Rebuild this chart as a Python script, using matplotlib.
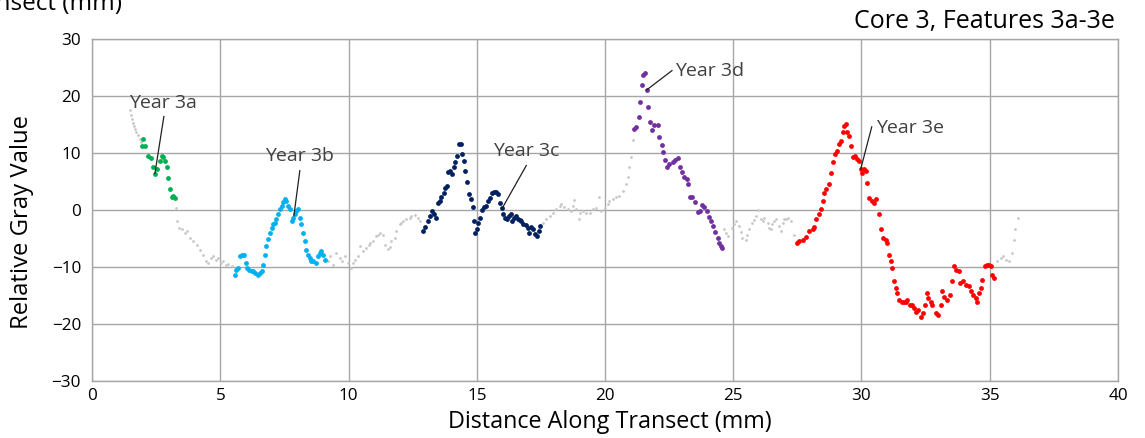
import matplotlib
matplotlib.use("Agg")
import matplotlib.pyplot as plt

# grey trace (unselected samples)
gray_x = [1.46, 1.51, 1.55, 1.6, 1.64, 1.68, 1.73, 1.79, 1.85, 1.9,
          3.27, 3.32, 3.4, 3.49, 3.62, 3.69, 3.82, 3.95, 4.08, 4.21, 4.34, 4.44,
          4.53, 4.62, 4.72, 4.83, 4.92, 5.01, 5.11, 5.22, 5.31, 5.44,
          9.14, 9.2, 9.27, 9.4, 9.53, 9.66, 9.75, 9.85, 9.98, 10.1, 10.18, 10.25,
          10.37, 10.44, 10.57, 10.7, 10.8, 10.83, 10.96, 11.09, 11.15, 11.22,
          11.35, 11.41, 11.54, 11.6, 11.67, 11.8, 11.86, 11.99, 12.05, 12.12,
          12.25, 12.38, 12.45, 12.58, 12.71, 12.8,
          17.58, 17.71, 17.84, 17.97, 18.1, 18.23, 18.29, 18.42, 18.55, 18.68,
          18.75, 18.81, 18.88, 18.98, 19.01, 19.14, 19.27, 19.4, 19.53, 19.66,
          19.76, 19.85, 19.98, 20.11, 20.17, 20.3, 20.43, 20.56, 20.69, 20.8,
          20.88, 20.95, 21.01, 21.08,
          24.65, 24.72, 24.78, 24.97, 25.03, 25.1, 25.23, 25.3, 25.36, 25.49,
          25.55, 25.62, 25.75, 25.8, 25.88, 25.97, 26.08, 26.15, 26.21, 26.34,
          26.4, 26.47, 26.53, 26.6, 26.66, 26.79, 26.86, 26.93, 26.99, 27.05,
          27.12, 27.25, 27.38, 27.48,
          35.29, 35.42, 35.5, 35.62, 35.75, 35.88, 35.94, 36.0, 36.11]
gray_y = [17.5, 16.6, 15.9, 15.3, 14.8, 14.2, 13.6, 13.1, 12.4, 11.9,
          0.41, -1.94, -3.12, -3.41, -4.0, -3.7, -4.88, -5.47, -6.06, -6.94, -7.82, -9.0,
          -9.29, -8.41, -8.11, -8.7, -8.41, -9.29, -9.0, -9.58, -9.47, -9.88,
          -8.7, -9.0, -8.1, -9.6, -7.5, -8.4, -9.0, -8.1, -9.3, -10.2, -9.3, -8.7,
          -8.1, -6.35, -7.2, -6.6, -6.2, -5.8, -5.5, -4.6, -4.3, -4.0,
          -4.3, -6.05, -6.9, -6.4, -5.5, -4.9, -3.7, -2.5, -2.2, -1.9,
          -1.65, -1.35, -1.0, -0.8, -1.35, -2.0,
          -2.2, -1.6, -1.05, -0.5, 0.1, 0.7, 1.0, 0.5, 0.1, -0.2,
          0.7, 1.7, 0.1, -1.6, -0.5, -0.2, -0.5, -0.5, 0.1, 0.4,
          2.3, -0.2, 0.4, 1.0, 1.6, 1.9, 2.2, 2.5, 3.35, 4.6,
          5.8, 7.5, 9.3, 12.2,
          -3.4, -4.0, -4.6, -3.1, -2.5, -1.9, -2.8, -3.8, -4.9, -5.2,
          -4.3, -3.4, -2.2, -1.7, -1.1, 0.0, -1.65, -2.0, -1.35, -2.2,
          -3.1, -3.4, -2.5, -2.0, -1.65, -2.8, -3.7, -2.3, -1.65, -1.5,
          -1.35, -1.9, -4.3, -5.5,
          -9.0, -8.41, -8.0, -8.7, -9.0, -7.53, -5.18, -3.41, -1.36]

# Year 3a (green)
a_x = [1.93, 2.0, 2.06, 2.19, 2.3, 2.39, 2.45, 2.52, 2.65, 2.71, 2.78, 2.84,
       2.91, 2.97, 3.04, 3.1, 3.17, 3.23]
a_y = [11.17, 12.46, 11.17, 9.52, 9.11, 7.47, 6.29, 7.17, 8.64, 9.52, 9.23, 8.64,
       7.47, 5.7, 3.64, 2.29, 2.47, 2.17]

# Year 3b (light blue)
b_x = [5.57, 5.63, 5.7, 5.76, 5.83, 5.92, 6.0, 6.05, 6.13, 6.22, 6.28, 6.37,
       6.48, 6.54, 6.61, 6.67, 6.74, 6.8, 6.87, 6.93, 7.0, 7.06, 7.13, 7.19,
       7.26, 7.32, 7.39, 7.45, 7.52, 7.58, 7.65, 7.71, 7.78, 7.84, 7.91, 7.97,
       8.03, 8.1, 8.16, 8.23, 8.29, 8.36, 8.42, 8.49, 8.55, 8.62, 8.72, 8.81,
       8.88, 8.94, 9.01, 9.07]
b_y = [-11.35, -10.47, -10.17, -8.11, -7.82, -7.94, -9.29, -10.17, -10.47, -10.64,
       -10.76, -11.05, -11.35, -11.05, -10.64, -9.58, -7.82, -6.35, -5.17, -4.0,
       -3.12, -2.53, -2.24, -1.65, -0.77, 0.12, 0.7, 1.47, 1.88, 1.59, 0.7, 0.12,
       -1.94, -1.35, -0.77, -0.18, 0.12, -1.35, -2.53, -4.0, -5.47, -6.94, -7.82,
       -8.41, -8.88, -9.0, -9.29, -8.11, -7.53, -7.23, -7.82, -8.7]

# Year 3c (navy)
c_x = [12.9, 13.0, 13.1, 13.16, 13.27, 13.33, 13.4, 13.49, 13.55, 13.62, 13.71,
       13.78, 13.84, 13.88, 13.97, 14.02, 14.1, 14.16, 14.23, 14.29, 14.37, 14.43,
       14.5, 14.56, 14.62, 14.69, 14.77, 14.85, 14.88, 14.94, 14.99, 15.06, 15.12,
       15.21, 15.29, 15.37, 15.45, 15.52, 15.6, 15.68, 15.76, 15.84, 15.91, 15.98,
       16.04, 16.11, 16.17, 16.25, 16.33, 16.38, 16.45, 16.51, 16.59, 16.67, 16.74,
       16.82, 16.9, 16.98, 17.03, 17.11, 17.19, 17.26, 17.34, 17.42, 17.47]
c_y = [-3.7, -3.0, -1.94, -1.05, -0.17, -0.76, -1.35, 1.3, 1.59, 2.3, 3.06,
       3.94, 4.24, 6.59, 6.88, 6.29, 7.47, 8.35, 9.53, 11.58, 11.58, 9.82,
       8.65, 6.88, 4.94, 2.88, 1.88, 0.53, -1.94, -4.0, -3.41, -2.23, -1.35,
       -0.06, 0.53, 0.71, 1.59, 2.18, 3.06, 3.24, 3.18, 2.88, 1.3, 0.3,
       -0.64, -1.35, -1.64, -1.05, -0.76, -1.94, -1.35, -1.05, -1.64, -1.82, -1.94,
       -2.52, -2.64, -3.11, -4.0, -3.0, -3.41, -4.29, -4.58, -3.7, -2.82]

# Year 3d (purple)
d_x = [21.14, 21.21, 21.31, 21.36, 21.43, 21.47, 21.56, 21.62, 21.69, 21.75,
       21.83, 21.92, 22.05, 22.12, 22.21, 22.27, 22.35, 22.4, 22.51, 22.64,
       22.74, 22.83, 22.92, 23.02, 23.09, 23.18, 23.24, 23.31, 23.41, 23.52,
       23.61, 23.7, 23.78, 23.87, 23.96, 24.04, 24.13, 24.22, 24.3, 24.39,
       24.45, 24.54, 24.58]
d_y = [14.28, 14.58, 16.34, 18.99, 21.93, 23.69, 23.98, 21.0, 18.11, 15.46,
       13.99, 14.87, 14.87, 12.81, 11.34, 10.17, 8.7, 7.52, 8.11, 8.41,
       8.82, 9.17, 7.52, 6.64, 5.76, 5.47, 4.58, 2.23, 2.23, 1.35,
       -0.41, -0.12, 0.94, 0.47, -0.12, -1.29, -1.88, -2.76, -3.94, -4.82,
       -5.7, -6.29, -6.7]

# Year 3e (red)
e_x = [27.5, 27.57, 27.7, 27.83, 27.96, 28.09, 28.15, 28.22, 28.35, 28.41, 28.48,
       28.54, 28.61, 28.74, 28.8, 28.87, 28.97, 29.06, 29.13, 29.19, 29.26, 29.32,
       29.39, 29.45, 29.52, 29.58, 29.65, 29.75, 29.84, 29.9, 29.97, 30.03, 30.1,
       30.16, 30.23, 30.29, 30.4, 30.49, 30.58, 30.68, 30.77, 30.84, 30.94, 31.01,
       31.07, 31.14, 31.2, 31.27, 31.33, 31.4, 31.46, 31.57, 31.66, 31.72, 31.79,
       31.88, 31.98, 32.05, 32.14, 32.22, 32.31, 32.4, 32.48, 32.54, 32.6, 32.7,
       32.76, 32.89, 32.99, 33.09, 33.15, 33.22, 33.34, 33.44, 33.54, 33.6, 33.7,
       33.8, 33.86, 33.96, 34.06, 34.19, 34.25, 34.34, 34.45, 34.51, 34.58, 34.64,
       34.71, 34.8, 34.9, 34.97, 35.03, 35.1, 35.16]
e_y = [-5.7, -5.47, -5.18, -4.76, -3.71, -3.41, -3.0, -1.65, -0.77, 0.11, 1.58,
       3.05, 3.64, 4.52, 6.58, 8.34, 9.81, 10.4, 11.58, 12.17, 13.64, 14.81,
       15.1, 13.64, 13.05, 11.28, 9.23, 9.52, 8.93, 8.64, 7.17, 6.58, 7.17,
       6.87, 4.82, 2.17, 1.58, 1.29, 1.88, -0.77, -3.41, -4.88, -5.18, -5.76,
       -7.82, -9.0, -10.17, -12.53, -13.7, -14.58, -15.76, -16.05, -16.05, -16.05, -15.76,
       -16.64, -16.64, -17.23, -17.82, -17.52, -18.7, -18.11, -16.64, -14.58, -15.47, -16.05,
       -16.64, -18.11, -18.4, -16.64, -14.29, -15.17, -15.76, -14.88, -12.53, -9.88, -10.47,
       -10.76, -12.82, -12.53, -13.11, -13.41, -14.29, -14.88, -15.47, -16.05, -14.58, -13.7,
       -12.23, -9.88, -9.59, -9.59, -9.88, -11.35, -11.94]

# annotation text, text position, leader line
labels = ["Year 3a", "Year 3b", "Year 3c", "Year 3d", "Year 3e"]
label_xy = [(2.78, 18.7), (8.07, 9.5), (16.93, 10.4), (22.74, 24.3), (30.56, 14.4)]
line_start = [(2.8, 16.4), (8.1, 6.9), (16.93, 7.8), (22.61, 24.45), (30.4, 14.6)]
line_end = [(2.45, 6.4), (7.87, -1.0), (15.99, 0.3), (21.62, 21.05), (29.97, 7.2)]
label_ha = ["center", "center", "center", "left", "left"]

plt.rcParams['font.family'] = ['Open Sans', 'DejaVu Sans']

fig = plt.figure(figsize=(11.45, 4.38), dpi=100)
ax = fig.add_axes([0.0804, 0.130, 0.896, 0.781])

ax.scatter(gray_x, gray_y, s=4, color='#c8c8c8', linewidths=0, zorder=3)
ax.scatter(a_x, a_y, s=12, color='#00b050', linewidths=0, zorder=4)
ax.scatter(b_x, b_y, s=12, color='#00b0f0', linewidths=0, zorder=4)
ax.scatter(c_x, c_y, s=12, color='#002060', linewidths=0, zorder=4)
ax.scatter(d_x, d_y, s=12, color='#7030a0', linewidths=0, zorder=4)
ax.scatter(e_x, e_y, s=12, color='#ff0000', linewidths=0, zorder=4)

for i in range(len(labels)):
    ax.plot([line_start[i][0], line_end[i][0]], [line_start[i][1], line_end[i][1]],
            color='#202020', lw=0.9, zorder=5)
    ax.text(label_xy[i][0], label_xy[i][1], labels[i], ha=label_ha[i], va='center',
            fontsize=14, color='#404040', zorder=6)

ax.set_xlim(0, 40)
ax.set_ylim(-30, 30)
ax.set_xticks(range(0, 41, 5))
ax.set_yticks(range(-30, 31, 10))
ax.grid(True, color='#a6a6a6', lw=1.0)
ax.set_axisbelow(True)
for sp in ax.spines.values():
    sp.set_color('#a6a6a6')
    sp.set_linewidth(1.0)
ax.tick_params(length=0, labelsize=12.3, colors='#000000')
ax.tick_params(axis='y', pad=8)
ax.tick_params(axis='x', pad=5)

ax.set_xlabel("Distance Along Transect (mm)", fontsize=16.8, labelpad=3)
ax.xaxis.set_label_coords(0.505, -0.085)
ax.set_ylabel("Relative Gray Value", fontsize=17.2)
ax.yaxis.set_label_coords(-0.057, 0.465)

fig.text(0.974, 0.95, "Core 3, Features 3a-3e", ha='right', va='center', fontsize=18)
# bottom of the label of the chart above, cut off by the crop
fig.text(0.1066, 0.977, "Distance Along Transect (mm)", ha='right', va='baseline', fontsize=17.5)

fig.savefig("out.png", dpi=100)
